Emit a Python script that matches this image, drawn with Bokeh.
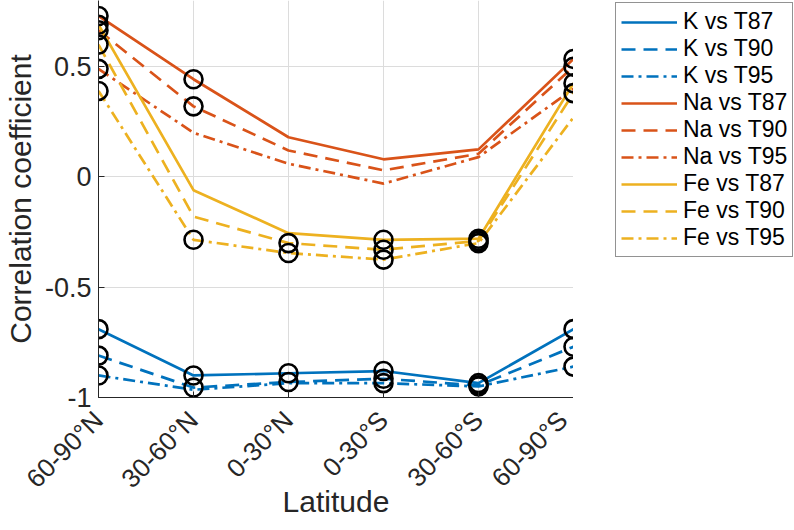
import math
from bokeh.plotting import figure
from bokeh.layouts import row
from bokeh.models import Range1d, FixedTicker, Legend, LegendItem
from bokeh.embed import file_html
from bokeh.resources import INLINE

# ---------------- data ----------------
latitude_labels = ["60-90°N", "30-60°N", "0-30°N", "0-30°S", "30-60°S", "60-90°S"]
x_pos = [1, 2, 3, 4, 5, 6]

k_t87 = [-0.69, -0.90, -0.89, -0.88, -0.935, -0.69]
k_t90 = [-0.81, -0.955, -0.93, -0.915, -0.945, -0.77]
k_t95 = [-0.90, -0.965, -0.935, -0.935, -0.95, -0.86]
na_t87 = [0.73, 0.443, 0.18, 0.08, 0.125, 0.535]
na_t90 = [0.665, 0.32, 0.12, 0.03, 0.105, 0.50]
na_t95 = [0.49, 0.20, 0.06, -0.03, 0.09, 0.40]
fe_t87 = [0.69, -0.06, -0.255, -0.285, -0.28, 0.425]
fe_t90 = [0.60, -0.18, -0.30, -0.33, -0.29, 0.38]
fe_t95 = [0.39, -0.285, -0.345, -0.375, -0.30, 0.27]

# significance flags (circled points)
k_t87_sig = [1, 1, 1, 1, 1, 1]
k_t90_sig = [1, 1, 1, 1, 1, 1]
k_t95_sig = [1, 0, 0, 1, 1, 1]
na_t87_sig = [1, 1, 0, 0, 0, 1]
na_t90_sig = [1, 1, 0, 0, 0, 1]
na_t95_sig = [1, 0, 0, 0, 0, 0]
fe_t87_sig = [1, 0, 0, 1, 1, 1]
fe_t90_sig = [1, 0, 1, 1, 1, 1]
fe_t95_sig = [1, 1, 1, 1, 1, 0]

y_ticks = [-1, -0.5, 0, 0.5]
y_tick_labels = ["-1", "-0.5", "0", "0.5"]

# ---------------- style ----------------
FONT = "Liberation Sans"
BLUE = "#0072BD"
RED = "#D95319"
YEL = "#EDB120"
AX = "#262626"
DASH = "14 8"
DASHDOT = "12 5 3 5"

series = [
    ("K vs T87", k_t87, k_t87_sig, BLUE, "solid"),
    ("K vs T90", k_t90, k_t90_sig, BLUE, DASH),
    ("K vs T95", k_t95, k_t95_sig, BLUE, DASHDOT),
    ("Na vs T87", na_t87, na_t87_sig, RED, "solid"),
    ("Na vs T90", na_t90, na_t90_sig, RED, DASH),
    ("Na vs T95", na_t95, na_t95_sig, RED, DASHDOT),
    ("Fe vs T87", fe_t87, fe_t87_sig, YEL, "solid"),
    ("Fe vs T90", fe_t90, fe_t90_sig, YEL, DASH),
    ("Fe vs T95", fe_t95, fe_t95_sig, YEL, DASHDOT),
]

# ---------------- main plot ----------------
p = figure(frame_width=475, frame_height=397,
           x_range=Range1d(1, 6), y_range=Range1d(-1, 0.8),
           output_backend="svg", toolbar_location=None,
           min_border_left=94, min_border_right=0, min_border_top=0,
           min_border_bottom=133)
p.outline_line_color = None
p.background_fill_color = "white"
p.border_fill_color = "white"

for name, ys, sig, col, dash in series:
    p.line(x_pos, ys, line_color=col, line_width=2.7, line_dash=dash)

for name, ys, sig, col, dash in series:
    xs = [x for x, s in zip(x_pos, sig) if s]
    yv = [y for y, s in zip(ys, sig) if s]
    p.scatter(xs, yv, marker="circle", size=18, fill_color=None,
              line_color="black", line_width=2.6)

xa = p.xaxis[0]
xa.ticker = FixedTicker(ticks=x_pos)
xa.major_label_overrides = {x: lab for x, lab in zip(x_pos, latitude_labels)}
xa.major_label_orientation = math.pi / 4
xa.axis_label = "Latitude"
ya = p.yaxis[0]
ya.ticker = FixedTicker(ticks=y_ticks)
ya.major_label_overrides = {t: s for t, s in zip(y_ticks, y_tick_labels)}
ya.axis_label = "Correlation coefficient"

for ax in (xa, ya):
    ax.axis_line_color = AX
    ax.axis_line_width = 1
    ax.major_tick_line_color = AX
    ax.major_tick_in = 6
    ax.major_tick_out = 0
    ax.minor_tick_line_color = None
    ax.major_label_text_font = FONT
    ax.major_label_text_color = AX
    ax.axis_label_text_font = FONT
    ax.axis_label_text_font_size = "30px"
    ax.axis_label_text_font_style = "normal"
    ax.axis_label_text_color = AX
xa.major_label_text_font_size = "26px"
ya.major_label_text_font_size = "27px"
xa.major_label_standoff = 18
ya.major_label_standoff = 7
xa.axis_label_standoff = -22
ya.axis_label_standoff = 5

p.xgrid.ticker = FixedTicker(ticks=x_pos)
p.ygrid.ticker = FixedTicker(ticks=y_ticks)
for g in (p.xgrid[0], p.ygrid[0]):
    g.grid_line_color = "#dcdcdc"
    g.grid_line_width = 1

# ---------------- legend panel ----------------
lf = figure(width=225, height=530, x_range=Range1d(-10, -9),
            y_range=Range1d(-1, 0.8), output_backend="svg",
            toolbar_location=None, x_axis_location=None, y_axis_location=None,
            min_border_left=40, min_border_right=0, min_border_top=0,
            min_border_bottom=0)
lf.outline_line_color = None
lf.xgrid.visible = False
lf.ygrid.visible = False
items = []
for name, ys, sig, col, dash in series:
    r = lf.line(x_pos, ys, line_color=col, line_width=2.7, line_dash=dash)
    items.append(LegendItem(label=name, renderers=[r]))

legend = Legend(items=items, location="top_left",
                label_text_font=FONT, label_text_font_size="23px",
                label_text_color="black",
                glyph_width=56, glyph_height=26, label_height=26,
                label_standoff=6, spacing=0, padding=5, margin=2,
                border_line_color=AX, border_line_width=1,
                background_fill_color="white", background_fill_alpha=1.0)
lf.add_layout(legend, "center")

layout = row(p, lf)
open("out.html", "w").write(file_html(layout, INLINE))
